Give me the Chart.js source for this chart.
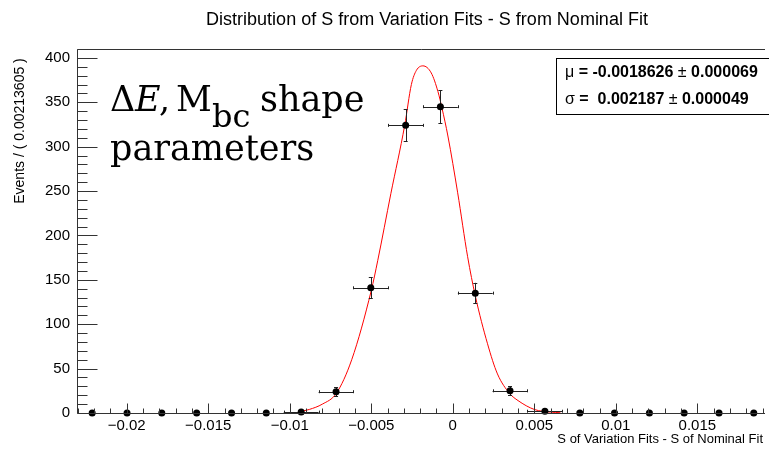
<!DOCTYPE html>
<html>
<head>
<meta charset="utf-8">
<title>Distribution of S from Variation Fits</title>
<script src="https://cdn.jsdelivr.net/npm/chart.js@4.4.1/dist/chart.umd.min.js"></script>
<style>
  html, body { margin: 0; padding: 0; background: #fff; overflow: hidden; }
</style>
</head>
<body>
<canvas id="chart" width="769" height="449"></canvas>
<script>
// histogram bins (bin width 0.00213605)
const binCenters = [-0.02212, -0.01998, -0.01785, -0.01571, -0.01357, -0.01144, -0.00930,
                    -0.00716, -0.00503, -0.00289, -0.00076, 0.00138, 0.00351, 0.00565,
                    0.00779, 0.00992, 0.01206, 0.01419, 0.01633, 0.01846];
const binCounts = [0, 0, 0, 0, 0, 0, 1, 24, 141, 324, 345, 135, 25, 2, 0, 0, 0, 0, 0, 0];
const binHalfWidth = 0.00106803;

// gaussian fit curve
const fitX = [-0.0095, -0.0088, -0.0080, -0.00715, -0.0062, -0.0050, -0.0046, -0.0038,
              -0.00295, -0.00254, -0.00223, -0.00183, -0.00132, -0.00091, -0.00067, -0.0003,
              0.0003, 0.00091, 0.00138, 0.00213, 0.00274, 0.00349, 0.0040, 0.0050, 0.0060, 0.0066];
const fitY = [1, 4, 10, 22, 60, 138, 172, 247, 324, 370, 386, 391, 383, 362, 344, 312,
              248, 176, 132, 78, 44, 22, 14, 4, 1, 0.3];

const xTickValues = [-0.02, -0.015, -0.01, -0.005, 0, 0.005, 0.01, 0.015];
const xTickLabels = ['\u22120.02', '\u22120.015', '\u22120.01', '\u22120.005', '0', '0.005', '0.01', '0.015'];
const yTickValues = [0, 50, 100, 150, 200, 250, 300, 350, 400];

const titleText = 'Distribution of S from Variation Fits - S from Nominal Fit';
const xTitle = 'S of Variation Fits - S of Nominal Fit';
const yTitle = 'Events / ( 0.00213605 )';
const muLine = ['\u03bc', ' = -0.0018626 ', '\u00b1', ' 0.000069'];
const sigmaLine = ['\u03c3', ' =  0.002187 ', '\u00b1', ' 0.000049'];

const SANS = '"Liberation Sans", Arial, sans-serif';
const SERIF = '"DejaVu Serif", serif';

// error bars under the points
const errorBars = {
  id: 'errorBars',
  beforeDatasetDraw(chart, args) {
    if (args.index !== 0) return;
    const ctx = chart.ctx, xs = chart.scales.x, ys = chart.scales.y;
    ctx.save();
    ctx.strokeStyle = '#222';
    ctx.lineWidth = 1;
    binCounts.forEach((n, i) => {
      if (n <= 0) return;
      const cx = xs.getPixelForValue(binCenters[i]);
      const cy = ys.getPixelForValue(n);
      const x0 = xs.getPixelForValue(binCenters[i] - binHalfWidth);
      const x1 = xs.getPixelForValue(binCenters[i] + binHalfWidth);
      const e = Math.sqrt(n);
      const y0 = ys.getPixelForValue(n - e);
      const y1 = ys.getPixelForValue(n + e);
      ctx.beginPath();
      ctx.moveTo(x0, Math.round(cy) + 0.5); ctx.lineTo(x1, Math.round(cy) + 0.5);
      ctx.moveTo(Math.round(x0) + 0.5, cy - 1.5); ctx.lineTo(Math.round(x0) + 0.5, cy + 1.5);
      ctx.moveTo(Math.round(x1) + 0.5, cy - 1.5); ctx.lineTo(Math.round(x1) + 0.5, cy + 1.5);
      if (n >= 4) {
        ctx.moveTo(Math.round(cx) + 0.5, y0); ctx.lineTo(Math.round(cx) + 0.5, y1);
        ctx.moveTo(cx - 2, Math.round(y0) + 0.5); ctx.lineTo(cx + 2, Math.round(y0) + 0.5);
        ctx.moveTo(cx - 2, Math.round(y1) + 0.5); ctx.lineTo(cx + 2, Math.round(y1) + 0.5);
      }
      ctx.stroke();
    });
    ctx.restore();
  }
};

function drawSegments(ctx, parts, x, y) {
  parts.forEach((t, i) => {
    ctx.font = (i % 2 === 0 ? '' : 'bold ') + '16px ' + SANS;
    ctx.fillText(t, x, y);
    x += ctx.measureText(t).width;
  });
}

// ROOT-style frame, ticks, titles, stats box and the big note
const frame = {
  id: 'frame',
  afterDraw(chart) {
    const ctx = chart.ctx, a = chart.chartArea, xs = chart.scales.x, ys = chart.scales.y;
    ctx.save();
    ctx.strokeStyle = '#333';
    ctx.lineWidth = 1;
    const L = Math.round(a.left) + 0.5, B = Math.round(a.bottom) + 0.5, T = Math.round(a.top) + 0.5;
    ctx.beginPath();
    ctx.moveTo(L, T); ctx.lineTo(a.right, T);
    ctx.moveTo(L, T); ctx.lineTo(L, B);
    ctx.moveTo(L, B); ctx.lineTo(a.right, B);
    // x ticks every 0.001, major every 0.005
    for (let k = -23; k <= 19; k++) {
      const px = Math.round(xs.getPixelForValue(k / 1000)) + 0.5;
      const len = (k % 5 === 0) ? 10 : 5;
      ctx.moveTo(px, B); ctx.lineTo(px, B - len);
    }
    // y ticks every 10, major every 50
    for (let v = 0; v <= 410; v += 10) {
      const py = Math.round(ys.getPixelForValue(v)) + 0.5;
      const len = (v % 50 === 0) ? 20 : 10;
      ctx.moveTo(L, py); ctx.lineTo(L + len, py);
    }
    ctx.stroke();

    ctx.fillStyle = '#000';
    ctx.textBaseline = 'middle';
    ctx.textAlign = 'center';
    ctx.font = '18px ' + SANS;
    ctx.fillText(titleText, 427, 20);

    ctx.font = '13px ' + SANS;
    ctx.textAlign = 'right';
    ctx.fillText(xTitle, 763, 439);

    ctx.save();
    ctx.font = '14px ' + SANS;
    ctx.translate(20, 131);
    ctx.rotate(-Math.PI / 2);
    ctx.textAlign = 'center';
    ctx.fillText(yTitle, 0, 0);
    ctx.restore();

    // stats box
    ctx.fillStyle = '#fff';
    ctx.fillRect(556, 58, 240, 56);
    ctx.strokeStyle = '#000';
    ctx.strokeRect(556.5, 58.5, 240, 56);
    ctx.fillStyle = '#000';
    ctx.textAlign = 'left';
    drawSegments(ctx, muLine, 565, 73);
    drawSegments(ctx, sigmaLine, 565, 100);

    // big note
    ctx.textBaseline = 'alphabetic';
    ctx.font = '35px ' + SERIF;
    ctx.fillText('\u0394', 110, 111);
    ctx.font = 'italic 35px ' + SERIF;
    ctx.fillText('E', 135, 111);
    ctx.font = '35px ' + SERIF;
    ctx.fillText(',', 159, 111);
    ctx.fillText('M', 176, 111);
    ctx.font = '32px ' + SERIF;
    ctx.fillText('bc', 212, 127);
    ctx.font = '35px ' + SERIF;
    ctx.fillText('shape', 260, 111);
    ctx.fillText('parameters', 110, 160);
    ctx.restore();
  }
};

new Chart(document.getElementById('chart'), {
  type: 'scatter',
  data: {
    datasets: [
      {
        label: 'data',
        data: binCenters.map((x, i) => ({ x: x, y: binCounts[i] })),
        pointRadius: 3.5,
        pointBackgroundColor: '#000',
        pointBorderColor: '#000',
        pointBorderWidth: 0,
        showLine: false,
        clip: false,
        order: 0
      },
      {
        label: 'fit',
        data: fitX.map((x, i) => ({ x: x, y: fitY[i] })),
        showLine: true,
        borderColor: '#ff0000',
        borderWidth: 1,
        pointRadius: 0,
        cubicInterpolationMode: 'monotone',
        order: 1
      }
    ]
  },
  options: {
    responsive: false,
    animation: false,
    devicePixelRatio: 1,
    layout: { padding: { top: 49, left: 0, right: 0, bottom: 0 } },
    plugins: { legend: { display: false }, tooltip: { enabled: false } },
    scales: {
      x: {
        type: 'linear',
        min: -0.02305,
        max: 0.01915,
        afterBuildTicks: s => { s.ticks = xTickValues.map(v => ({ value: v })); },
        afterFit: s => { s.height = 36; },
        grid: { display: false, drawTicks: false },
        border: { display: false },
        ticks: {
          autoSkip: false,
          maxRotation: 0,
          padding: 4,
          color: '#000',
          font: { family: SANS, size: 15 },
          callback: v => xTickLabels[xTickValues.indexOf(v)]
        }
      },
      y: {
        type: 'linear',
        min: 0,
        max: 410,
        afterBuildTicks: s => { s.ticks = yTickValues.map(v => ({ value: v })); },
        afterFit: s => { s.width = 77; },
        grid: { display: false, drawTicks: false },
        border: { display: false },
        ticks: {
          padding: 7,
          color: '#000',
          font: { family: SANS, size: 15 }
        }
      }
    }
  },
  plugins: [errorBars, frame]
});
</script>
</body>
</html>
